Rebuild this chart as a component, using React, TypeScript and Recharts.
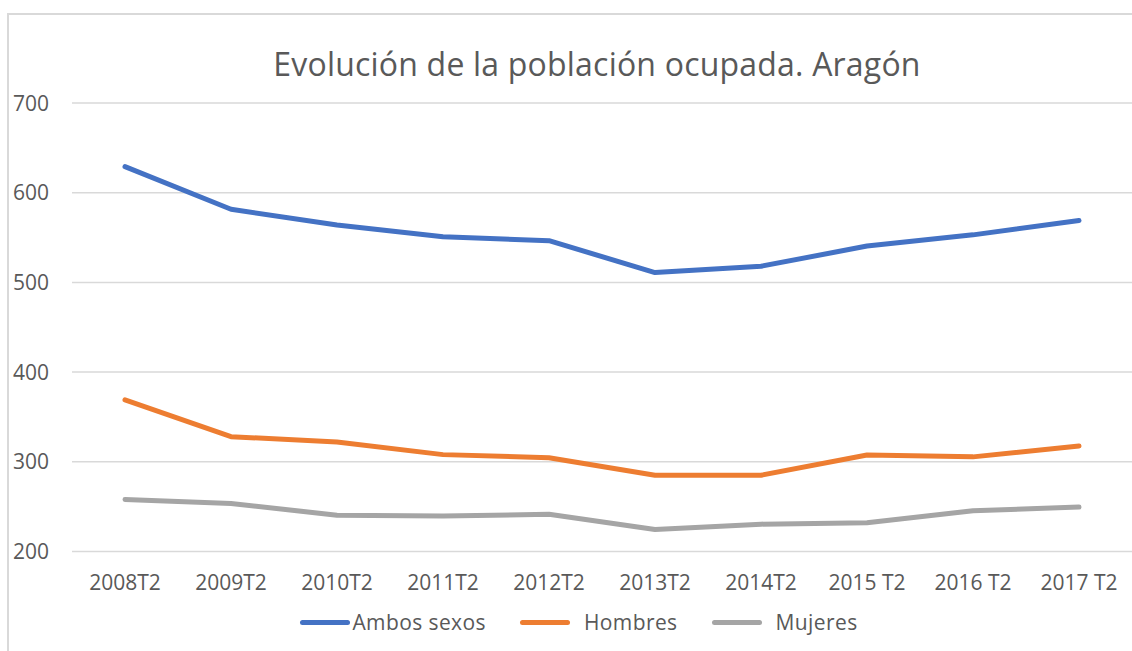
import React from "react";
import { LineChart, Line, XAxis, YAxis, CartesianGrid, Legend } from "recharts";

const periods = [
  "2008T2", "2009T2", "2010T2", "2011T2", "2012T2",
  "2013T2", "2014T2", "2015 T2", "2016 T2", "2017 T2",
];
const ambosSexos = [629, 581.5, 564, 551, 546.5, 511, 518, 540.5, 553, 569];
const hombres = [369, 328, 322, 308, 304.5, 285, 285, 307.5, 305.5, 317.5];
const mujeres = [258, 253.5, 240.5, 239.5, 241.5, 224.5, 230.5, 232, 245.5, 249.5];
const yTicks = [200, 300, 400, 500, 600, 700];

const data = periods.map((p, i) => ({
  period: p,
  ambos: ambosSexos[i],
  hombres: hombres[i],
  mujeres: mujeres[i],
}));

const FONT = "'Open Sans', sans-serif";
const TEXT = "#595959";

function YTick(props: any) {
  const { y, payload } = props;
  return (
    <text x={13} y={y} dy="0.36em" textAnchor="start" fill={TEXT} fontSize={21} fontFamily={FONT}>
      {payload.value}
    </text>
  );
}

function XTick(props: any) {
  const { x, y, payload } = props;
  return (
    <text x={x} y={y} dy={30} textAnchor="middle" fill={TEXT} fontSize={21} fontFamily={FONT}>
      {payload.value}
    </text>
  );
}

function LegendContent(props: any) {
  const items = props.payload || [];
  return (
    <div style={{ display: "flex", justifyContent: "center", alignItems: "center", height: 32, paddingLeft: 26 }}>
      {items.map((it: any, i: number) => (
        <div key={i} style={{ display: "flex", alignItems: "center", marginLeft: i === 0 ? 0 : 34 }}>
          <div style={{ width: 50, height: 5, borderRadius: 3, background: it.color }} />
          <span style={{ marginLeft: i === 0 ? 2 : 14, fontFamily: FONT, fontSize: 21, color: TEXT, letterSpacing: 0.4 }}>
            {it.value}
          </span>
        </div>
      ))}
    </div>
  );
}

export default function App() {
  return (
    <div style={{ position: "fixed", left: 0, top: 0, width: 1132, height: 651, background: "#fff", overflow: "hidden" }}>
      <div
        style={{
          position: "absolute",
          left: 7,
          top: 13,
          width: 1200,
          height: 700,
          border: "2px solid #d9d9d9",
          boxSizing: "border-box",
        }}
      />
      <div
        style={{
          position: "absolute",
          left: 0,
          width: 1194,
          top: 44,
          textAlign: "center",
          fontFamily: FONT,
          fontSize: 32,
          color: TEXT,
          lineHeight: "40px",
          letterSpacing: 0.2,
        }}
      >
        Evolución de la población ocupada. Aragón
      </div>
      <div style={{ position: "absolute", left: 0, top: 0 }}>
        <LineChart width={1132} height={651} data={data} margin={{ top: 103, right: 0, left: 8, bottom: 27.5 }}>
          <CartesianGrid vertical={false} stroke="#d9d9d9" strokeWidth={1.5} />
          <XAxis
            dataKey="period"
            axisLine={false}
            tickLine={false}
            tick={<XTick />}
            height={40}
            padding={{ left: 53, right: 53 }}
            interval={0}
          />
          <YAxis
            domain={[200, 700]}
            ticks={yTicks}
            axisLine={false}
            tickLine={false}
            tick={<YTick />}
            width={64}
          />
          <Legend
            verticalAlign="bottom"
            height={32}
            content={<LegendContent />}
            wrapperStyle={{ left: 0, width: 1132, bottom: 13 }}
          />
          <Line type="linear" dataKey="ambos" name="Ambos sexos" stroke="#4472C4" strokeWidth={5} strokeLinecap="round" strokeLinejoin="round" dot={false} isAnimationActive={false} />
          <Line type="linear" dataKey="hombres" name="Hombres" stroke="#ED7D31" strokeWidth={5} strokeLinecap="round" strokeLinejoin="round" dot={false} isAnimationActive={false} />
          <Line type="linear" dataKey="mujeres" name="Mujeres" stroke="#A5A5A5" strokeWidth={5} strokeLinecap="round" strokeLinejoin="round" dot={false} isAnimationActive={false} />
        </LineChart>
      </div>
    </div>
  );
}
